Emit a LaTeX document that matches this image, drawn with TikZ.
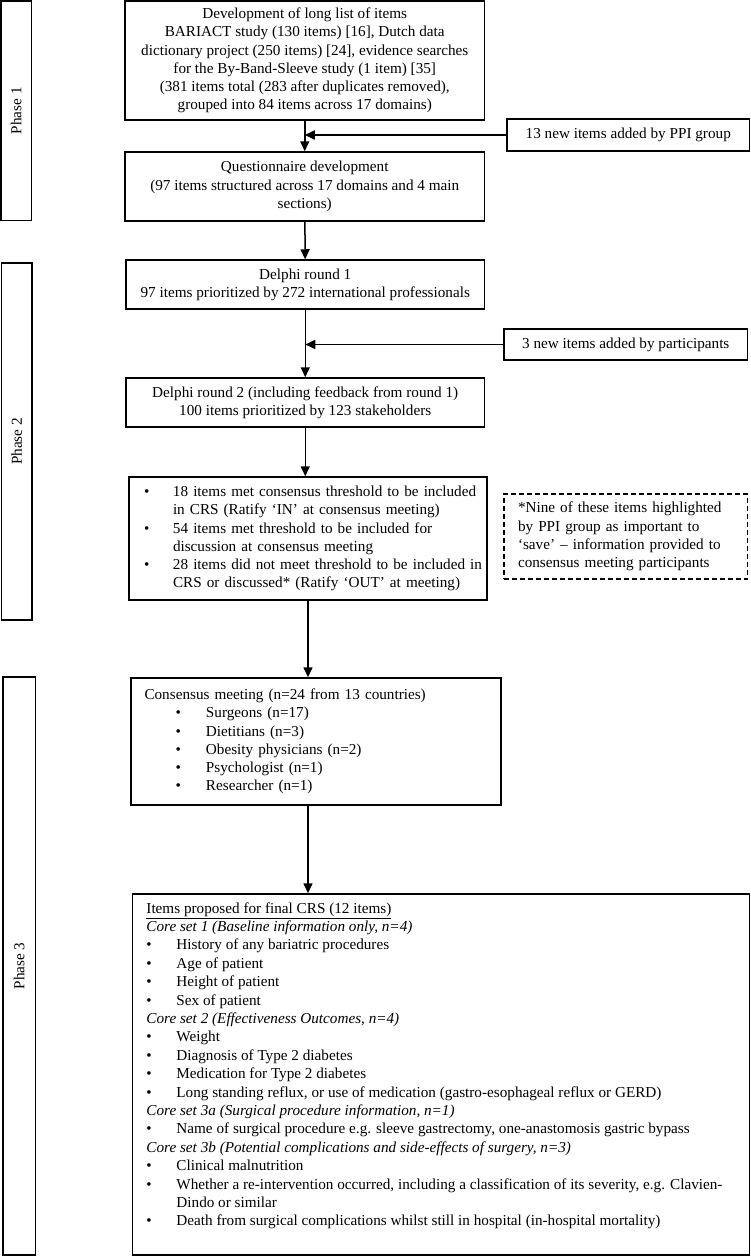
\documentclass[tikz,border=0pt]{standalone}
\usepackage{fontspec}
\setmainfont{Liberation Serif}
\usepackage{tikz}
\usetikzlibrary{arrows.meta}

\newcommand{\bitem}[3]{\hspace*{#1}\makebox[#2][l]{\textbullet}\mbox{#3}}

\begin{document}
\begin{tikzpicture}[x=1pt,y=-1pt]
				\useasboundingbox (0,0) rectangle (751,1256);
				\begin{scope}[every node/.style={draw,line width=1.5pt,inner sep=0pt,
					font=\fontsize{15.2pt}{18.2pt}\selectfont}]
					% phases
					\node [rotate=90,minimum width=219.5pt,minimum height=30.5pt] (P1) at (16.25,110.75) {Phase 1};
					\node [rotate=90,minimum width=357pt,minimum height=30.5pt] (P2) at (16.75,441.5) {Phase 2};
					\node [rotate=90,minimum width=578pt,minimum height=32.5pt] (P3) at (19.25,966) {Phase 3};
					
					% main column
					\node [minimum width=359.5pt,minimum height=119pt,align=center] (dev) at (304.75,60.5)
						{Development of long list of items\\
						BARIACT study (130 items) [16], Dutch data\\
						dictionary project (250 items) [24], evidence searches\\
						for the By-Band-Sleeve study (1 item) [35]\\
						(381 items total (283 after duplicates removed),\\
						grouped into 84 items across 17 domains)};
					\node [minimum width=359.5pt,minimum height=69pt,align=center] (quest) at (304.75,186.5)
						{Questionnaire development\\
						(97 items structured across 17 domains and 4 main\\
						sections)};
					\node [minimum width=358.5pt,minimum height=49pt,align=center] (del1) at (305.25,284.5)
						{Delphi round 1\\
						97 items prioritized by 272 international professionals};
					\node [minimum width=358.5pt,minimum height=49pt,align=center] (del2) at (305.25,402.5)
						{Delphi round 2 (including feedback from round 1)\\
						100 items prioritized by 123 stakeholders};
					\node [minimum width=358pt,minimum height=123pt,text width=328pt,align=left] (thr) at (308,538.5)
						{\bitem{0pt}{29pt}{18 items met consensus threshold to be included}\\
						\hspace*{29pt}\mbox{in CRS (Ratify ‘IN’ at consensus meeting)}\\
						\bitem{0pt}{29pt}{54 items met threshold to be included for}\\
						\hspace*{29pt}\mbox{discussion at consensus meeting}\\
						\bitem{0pt}{29pt}{28 items did not meet threshold to be included in}\\
						\hspace*{29pt}\mbox{CRS or discussed* (Ratify ‘OUT’ at meeting)}};
					\node [minimum width=370pt,minimum height=127pt,text width=343pt,align=left] (cons) at (316,741.5)
						{Consensus meeting (n=24 from 13 countries)\\
						\bitem{31pt}{30.5pt}{Surgeons (n=17)}\\
						\bitem{31pt}{30.5pt}{Dietitians (n=3)}\\
						\bitem{31pt}{30.5pt}{Obesity physicians (n=2)}\\
						\bitem{31pt}{30.5pt}{Psychologist (n=1)}\\
						\bitem{31pt}{30.5pt}{Researcher (n=1)}};
					\node [minimum width=617pt,minimum height=361pt] (crs) at (441,1074.5) {};
					
					% side boxes
					\node [minimum width=242.5pt,minimum height=32pt] (ppi) at (628.25,135) {13 new items added by PPI group};
					\node [minimum width=243.5pt,minimum height=31pt] (part) at (625.75,344.5) {3 new items added by participants};
					\node [dash pattern=on 5pt off 3pt,minimum width=243.5pt,minimum height=85pt,text width=215.5pt,align=left] (nine) at (625.75,536.5)
						{*Nine of these items highlighted\\
						by PPI group as important to\\
						‘save’ – information provided to\\
						consensus meeting participants};
				\end{scope}
				
				% final list
				\node [anchor=north west,inner sep=0pt,align=left,font=\fontsize{15.2pt}{18.4pt}\selectfont] (crstext)
					at ([xshift=14.5pt,yshift=-9pt]crs.north west)
					{\underline{Items proposed for final CRS (12 items)}\\
					\textit{Core set 1 (Baseline information only, n=4)}\\
					\bitem{0pt}{30pt}{History of any bariatric procedures}\\
					\bitem{0pt}{30pt}{Age of patient}\\
					\bitem{0pt}{30pt}{Height of patient}\\
					\bitem{0pt}{30pt}{Sex of patient}\\
					\textit{Core set 2 (Effectiveness Outcomes, n=4)}\\
					\bitem{0pt}{30pt}{Weight}\\
					\bitem{0pt}{30pt}{Diagnosis of Type 2 diabetes}\\
					\bitem{0pt}{30pt}{Medication for Type 2 diabetes}\\
					\bitem{0pt}{30pt}{Long standing reflux, or use of medication (gastro-esophageal reflux or GERD)}\\
					\textit{Core set 3a (Surgical procedure information, n=1)}\\
					\bitem{0pt}{30pt}{Name of surgical procedure e.g. sleeve gastrectomy, one-anastomosis gastric bypass}\\
					\textit{Core set 3b (Potential complications and side-effects of surgery, n=3)}\\
					\bitem{0pt}{30pt}{Clinical malnutrition}\\
					\bitem{0pt}{30pt}{Whether a re-intervention occurred, including a classification of its severity, e.g. Clavien-}\\
					\hspace*{30pt}Dindo or similar\\
					\bitem{0pt}{30pt}{Death from surgical complications whilst still in hospital (in-hospital mortality)}};
				
				\coordinate (j1) at (dev.south |- ppi.west);
				\coordinate (j2) at (del1.south |- part.west);
				
				\begin{scope}[>={Triangle[length=10pt,width=9pt]},line width=1.5pt]
					\path [->] (dev) edge (quest);
					\path [->] (quest) edge (del1);
					\path [->] (del1) edge (del2);
					\path [->] (del2.south) edge (del2.south |- thr.north);
					\path [->] (thr.south) edge (thr.south |- cons.north);
					\path [->] (cons.south -| thr.south) edge (thr.south |- crs.north);
					
					\path [->] (ppi) edge (j1);%PPI%
					\path [->] (part) edge (j2);%participants%
				\end{scope}
\end{tikzpicture}
\end{document}
